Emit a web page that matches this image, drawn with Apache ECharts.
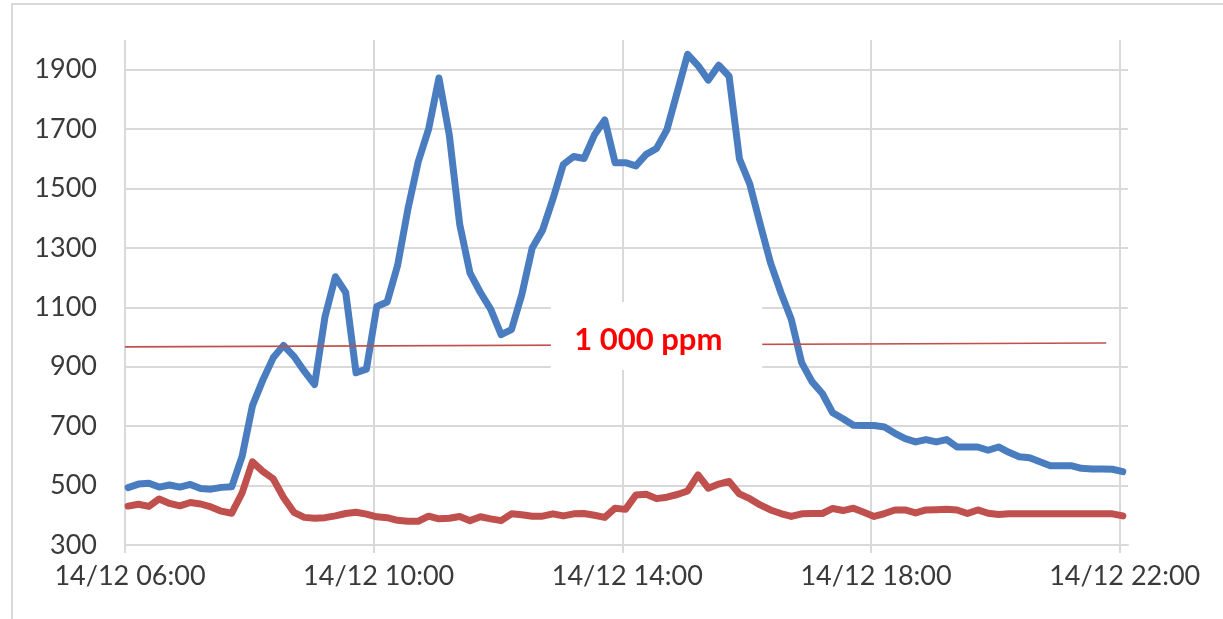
<!DOCTYPE html>
<html>
<head>
<meta charset="utf-8">
<script src="https://cdn.jsdelivr.net/npm/echarts@6/dist/echarts.min.js"></script>
<style>
html,body{margin:0;padding:0;background:#fff;}
#chart{width:1223px;height:619px;}
</style>
</head>
<body>
<div id="chart"></div>
<script>
// minutes after 14/12 06:00 (10-minute readings)
const minutes = [3,13,23,33,43,53,63,73,83,93,103,113,123,133,143,153,163,173,183,193,
203,213,223,233,243,253,263,273,283,293,303,313,323,333,343,353,363,373,383,393,
403,413,423,433,443,453,463,473,483,493,503,513,523,533,543,553,563,573,583,593,
603,613,623,633,643,653,663,673,683,693,703,713,723,733,743,753,763,773,783,793,
803,813,823,833,843,853,863,873,883,893,903,913,923,933,943,953,963];

const co2Indoor = [493,505,508,495,502,495,504,490,488,494,496,598,769,855,930,972,935,885,840,1068,
1203,1150,880,892,1103,1118,1240,1430,1590,1700,1872,1680,1380,1215,1150,1093,1008,1025,1143,1300,
1360,1465,1581,1608,1601,1680,1731,1587,1587,1576,1615,1635,1698,1825,1952,1914,1865,1915,1878,1600,
1515,1380,1250,1150,1060,914,850,810,745,725,703,702,702,697,676,658,647,655,647,655,
630,630,630,619,630,612,597,594,580,567,567,567,558,556,556,555,547];

const co2Outdoor = [431,437,430,455,440,432,443,438,428,414,407,475,580,548,523,460,410,393,390,392,
398,406,410,404,395,392,383,380,380,397,388,390,396,382,395,388,382,405,402,397,
397,405,398,405,406,400,393,424,420,468,471,456,461,470,482,536,491,505,514,472,
456,435,418,406,396,405,406,406,423,416,424,410,396,406,418,418,408,418,419,420,
418,406,418,407,403,405,405,405,405,405,405,405,405,405,405,405,398];

const xTicks = [0, 240, 480, 720, 960];
const xTickLabels = ['14/12 06:00', '14/12 10:00', '14/12 14:00', '14/12 18:00', '14/12 22:00'];
const yTicks = [300, 500, 700, 900, 1100, 1300, 1500, 1700, 1900];

// drawn threshold line (start / end points: [minute, ppm])
const thresholdStart = [0, 967];
const thresholdEnd = [947, 980];
const thresholdText = '1 000 ppm';
// white label box extent: [minute, ppm]
const labelBoxFrom = [411, 1118];
const labelBoxTo = [615, 889];
const labelAt = [505, 990];

const chart = echarts.init(document.getElementById('chart'), null, {renderer: 'canvas'});

const blueData = minutes.map((m, i) => [m, co2Indoor[i]]);
const redData = minutes.map((m, i) => [m, co2Outdoor[i]]);

const gridColor = '#d9d9d9';
const labelFont = {fontFamily: 'Lato', fontSize: 27, color: '#3a3a3a'};

chart.setOption({
  animation: false,
  backgroundColor: '#fff',
  grid: {left: 125, right: 95, top: 40, bottom: 74, containLabel: false},
  xAxis: {
    type: 'value', min: 0, max: 968,
    axisLine: {show: true, lineStyle: {color: gridColor, width: 2}},
    axisTick: {show: true, length: 8, lineStyle: {color: gridColor, width: 2}, customValues: xTicks},
    splitLine: {show: true, lineStyle: {color: gridColor, width: 2}},
    axisLabel: Object.assign({
      customValues: xTicks,
      margin: 18,
      padding: [0, 0, 0, 10],
      formatter: v => xTickLabels[xTicks.indexOf(v)]
    }, labelFont)
  },
  yAxis: {
    type: 'value', min: 300, max: 2000,
    axisLine: {show: false},
    axisTick: {show: false, customValues: yTicks},
    splitLine: {show: true, lineStyle: {color: gridColor, width: 2}},
    axisLabel: Object.assign({customValues: yTicks, margin: 28, formatter: v => String(v)}, labelFont)
  },
  series: [
    {
      type: 'line', data: blueData, showSymbol: false, symbol: 'none',
      lineStyle: {color: '#4a7cc0', width: 7, join: 'round', cap: 'round'},
      z: 3
    },
    {
      type: 'line', data: redData, showSymbol: false, symbol: 'none',
      lineStyle: {color: '#c0504d', width: 7, join: 'round', cap: 'round'},
      z: 4,
      markLine: {
        silent: true, symbol: 'none', animation: false,
        label: {show: false},
        lineStyle: {color: '#c0504d', width: 1.6, type: 'solid'},
        data: [[{coord: thresholdStart}, {coord: thresholdEnd}]]
      }
    }
  ]
});

const p1 = chart.convertToPixel({gridIndex: 0}, labelBoxFrom);
const p2 = chart.convertToPixel({gridIndex: 0}, labelBoxTo);
const pl = chart.convertToPixel({gridIndex: 0}, labelAt);

chart.setOption({
  graphic: [
    {
      type: 'rect', z: 100,
      shape: {x: 12, y: 4, width: 1240, height: 640},
      style: {fill: 'none', stroke: '#d9d9d9', lineWidth: 2}
    },
    {
      type: 'rect', z: 100,
      shape: {x: p1[0], y: p1[1], width: p2[0] - p1[0], height: p2[1] - p1[1]},
      style: {fill: '#ffffff'}
    },
    {
      type: 'text', z: 101,
      x: pl[0], y: pl[1],
      style: {text: thresholdText, fill: '#ff0000', font: 'bold 31px Lato', align: 'center', verticalAlign: 'middle'}
    }
  ]
});
</script>
</body>
</html>
